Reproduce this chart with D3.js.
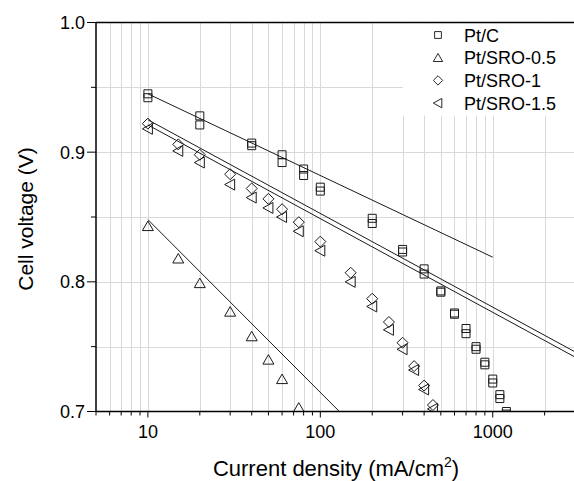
<!DOCTYPE html>
<html><head><meta charset="utf-8">
<script src="https://cdn.jsdelivr.net/npm/d3@7"></script>
<style>body{margin:0;background:#fff} svg{display:block}</style>
</head><body><svg id="c" width="574" height="481"></svg>
<script>
// ---- data ----
const currentPtC = [10,20,40,60,80,100,200,300,400,500,600,700,800,900,1000,1100,1200];
const voltagePtC = [0.945,0.928,0.907,0.898,0.887,0.873,0.849,0.825,0.810,0.793,0.776,0.764,0.750,0.738,0.725,0.713,0.700];
const voltagePtCRepeat = [0.942,0.921,0.905,0.892,0.882,0.870,0.845,0.823,0.806,0.792,0.775,0.760,0.748,0.736,0.722,0.710,0.698];
const currentSRO05 = [10,15,20,30,40,50,60,75];
const voltageSRO05 = [0.843,0.818,0.799,0.777,0.758,0.740,0.725,0.703];
const currentSRO = [10,15,20,30,40,50,60,75,100,150,200,250,300,350,400,450];
const voltageSRO1 = [0.922,0.906,0.898,0.883,0.872,0.864,0.856,0.846,0.831,0.807,0.787,0.769,0.753,0.735,0.720,0.705];
const voltageSRO15 = [0.918,0.901,0.892,0.875,0.865,0.857,0.850,0.839,0.824,0.800,0.781,0.763,0.748,0.732,0.717,0.702];
// Tafel fit lines (end points)
const fitPtCX = [10,1000], fitPtCY = [0.945,0.819];
const fitSRO05X = [10,129], fitSRO05Y = [0.848,0.700];
const fitSRO1X = [10,3000], fitSRO1Y = [0.925,0.746];
const fitSRO15X = [10,3000], fitSRO15Y = [0.921,0.742];
const legendLabels = ["Pt/C","Pt/SRO-0.5","Pt/SRO-1","Pt/SRO-1.5"];
const yTicks = [0.7,0.8,0.9,1.0];
const yMinorTicks = [0.75,0.85,0.95];
const xMajorTicks = [10,100,1000];
const xTickLabels = ["10","100","1000"];

// ---- layout ----
const svg = d3.select("#c");
const L = 96, R = 575, T = 22.5, B = 411.5;
const x = d3.scaleLog().domain([5,3000]).range([L,R]);
const y = d3.scaleLinear().domain([0.7,1.0]).range([B,T]);
const font = "'Liberation Sans', Arial, sans-serif";
const ink = "#1a1a1a";

// minor log ticks
const xAll = [];
[1,10,100,1000].forEach(d => { for (let k=1;k<=9;k++){ const v=d*k; if (v>=5 && v<=3000) xAll.push(v);} });

svg.append("defs").append("clipPath").attr("id","plot")
  .append("rect").attr("x",L).attr("y",T).attr("width",R-L).attr("height",B-T);

// grid
const grid = svg.append("g").attr("stroke","#d9d9d9").attr("stroke-width",1);
grid.selectAll("line.v").data(xAll.filter(v=>v>5)).enter().append("line")
  .attr("x1",d=>Math.round(x(d))+0.5).attr("x2",d=>Math.round(x(d))+0.5).attr("y1",T).attr("y2",B);
grid.selectAll("line.h").data([0.75,0.8,0.85,0.9,0.95]).enter().append("line")
  .attr("x1",L).attr("x2",R).attr("y1",d=>Math.round(y(d))+0.5).attr("y2",d=>Math.round(y(d))+0.5);

// legend background
svg.append("rect").attr("x",403).attr("y",T+1).attr("width",R-403).attr("height",92).attr("fill","#fff");

// marker shapes
const shapes = {
  square: "M-4,-4H4V4H-4Z",
  tri: "M0,-5L5.5,4.5H-5.5Z",
  diamond: "M0,-5.5L5.5,0L0,5.5L-5.5,0Z",
  ltri: "M-5.5,0L4.5,-5.5V5.5Z"
};

const plot = svg.append("g").attr("clip-path","url(#plot)");
function line(xs, ys){
  plot.append("path").datum(xs.map((d,i)=>[d,ys[i]]))
    .attr("d", d3.line().x(d=>x(d[0])).y(d=>y(d[1])))
    .attr("fill","none").attr("stroke",ink).attr("stroke-width",1);
}
function markers(xs, ys, shape){
  plot.append("g").selectAll("path").data(xs.map((d,i)=>[d,ys[i]])).enter().append("path")
    .attr("d", shapes[shape])
    .attr("transform", d=>`translate(${x(d[0])},${y(d[1])})`)
    .attr("fill","none").attr("stroke",ink).attr("stroke-width",1);
}
line(fitPtCX, fitPtCY);
line(fitSRO05X, fitSRO05Y);
line(fitSRO1X, fitSRO1Y);
line(fitSRO15X, fitSRO15Y);
markers(currentPtC, voltagePtC, "square");
markers(currentPtC, voltagePtCRepeat, "square");
markers(currentSRO05, voltageSRO05, "tri");
markers(currentSRO, voltageSRO1, "diamond");
markers(currentSRO, voltageSRO15, "ltri");

// frame
const frame = svg.append("g").attr("stroke","#000").attr("stroke-width",1.5);
frame.append("line").attr("x1",L).attr("x2",L).attr("y1",T).attr("y2",B);
frame.append("line").attr("x1",L).attr("x2",R).attr("y1",B).attr("y2",B);
frame.append("line").attr("x1",L).attr("x2",R).attr("y1",T).attr("y2",T);

// x ticks
const xt = svg.append("g").attr("stroke","#000").attr("stroke-width",1);
xt.selectAll("line").data(xAll).enter().append("line")
  .attr("x1",d=>x(d)).attr("x2",d=>x(d)).attr("y1",B)
  .attr("y2",d=> xMajorTicks.includes(d) ? B+6 : B+4);
svg.append("g").selectAll("text").data(xMajorTicks).enter().append("text")
  .attr("x",d=>x(d)).attr("y",B+26).attr("text-anchor","middle")
  .attr("font-family",font).attr("font-size",18).attr("fill","#000")
  .text((d,i)=>xTickLabels[i]);

// y ticks
const yt = svg.append("g").attr("stroke","#000").attr("stroke-width",1);
yt.selectAll("line.m").data(yTicks).enter().append("line")
  .attr("x1",L-9).attr("x2",L).attr("y1",d=>y(d)).attr("y2",d=>y(d));
yt.selectAll("line.n").data(yMinorTicks).enter().append("line")
  .attr("x1",L-5).attr("x2",L).attr("y1",d=>y(d)).attr("y2",d=>y(d));
svg.append("g").selectAll("text").data(yTicks).enter().append("text")
  .attr("x",L-11).attr("y",d=>y(d)+6.5).attr("text-anchor","end")
  .attr("font-family",font).attr("font-size",18).attr("fill","#000")
  .text(d=>d.toFixed(1));

// axis titles
svg.append("text").attr("transform",`translate(33,219) rotate(-90)`)
  .attr("text-anchor","middle").attr("font-family",font).attr("font-size",21).attr("fill","#000")
  .text("Cell voltage (V)");
const xtitle = svg.append("text").attr("x",336).attr("y",476)
  .attr("text-anchor","middle").attr("font-family",font).attr("font-size",22).attr("fill","#000");
xtitle.append("tspan").text("Current density (mA/cm");
xtitle.append("tspan").attr("dy",-9).attr("font-size",14).text("2");
xtitle.append("tspan").attr("dy",9).text(")");

// legend
const legShapes = ["square","tri","diamond","ltri"];
const lg = svg.append("g");
legendLabels.forEach((lab,i)=>{
  const cy = 35 + i*22.7;
  lg.append("path").attr("d",shapes[legShapes[i]])
    .attr("transform",`translate(438,${cy}) scale(0.85)`)
    .attr("fill","none").attr("stroke",ink).attr("stroke-width",1.1);
  lg.append("text").attr("x",464).attr("y",cy+6.5)
    .attr("font-family",font).attr("font-size",18).attr("fill","#000").text(lab);
});
</script></body></html>
